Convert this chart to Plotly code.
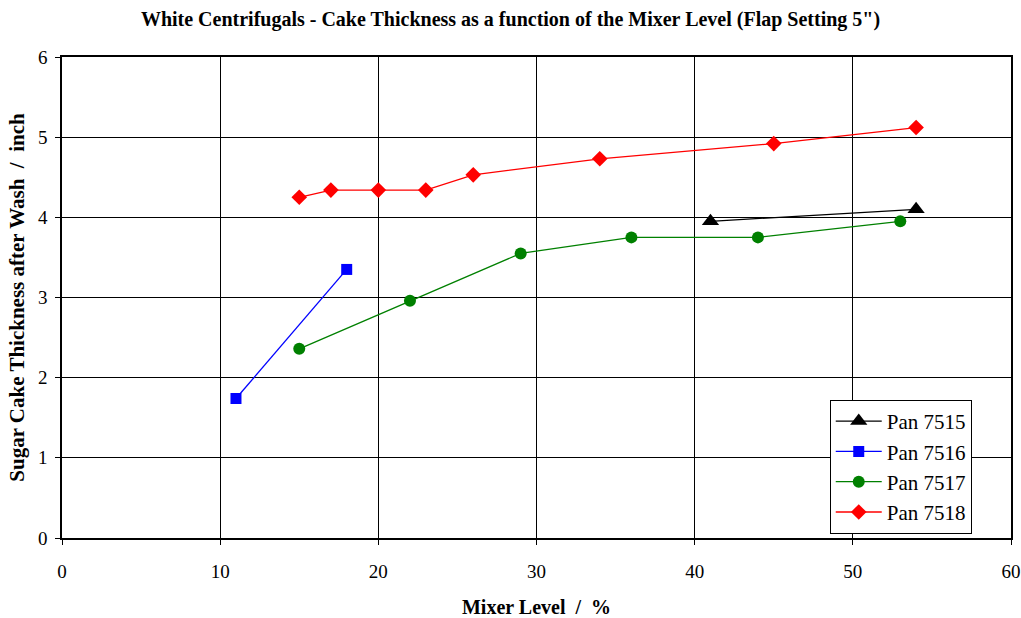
import plotly.graph_objects as go

pan7515_x = [41, 54]
pan7515_y = [3.95, 4.10]
pan7516_x = [11, 18]
pan7516_y = [1.74, 3.35]
pan7517_x = [15, 22, 29, 36, 44, 53]
pan7517_y = [2.36, 2.96, 3.55, 3.75, 3.75, 3.95]
pan7518_x = [15, 17, 20, 23, 26, 34, 45, 54]
pan7518_y = [4.25, 4.34, 4.34, 4.34, 4.53, 4.73, 4.92, 5.12]

FONT = "Liberation Serif"

fig = go.Figure()
series = [
    ("Pan 7515", pan7515_x, pan7515_y, "black", "triangle-up", 15),
    ("Pan 7516", pan7516_x, pan7516_y, "blue", "square", 11),
    ("Pan 7517", pan7517_x, pan7517_y, "green", "circle", 12),
    ("Pan 7518", pan7518_x, pan7518_y, "red", "diamond", 12),
]
for name, xs, ys, c, sym, sz in series:
    fig.add_trace(go.Scatter(x=xs, y=ys, name=name, mode="lines+markers",
                             line=dict(color=c, width=1.3),
                             marker=dict(color=c, symbol=sym, size=sz)))

fig.update_layout(
    width=1021, height=618,
    margin=dict(l=62, r=10, t=57, b=80, autoexpand=False),
    paper_bgcolor="white", plot_bgcolor="white",
    font=dict(family=FONT, size=19, color="black"),
    title=dict(text="<b>White Centrifugals - Cake Thickness as a function of the Mixer Level (Flap Setting 5\")</b>",
               x=0.5, xanchor="center", y=0.97, yanchor="middle",
               font=dict(family=FONT, size=20)),
    showlegend=True,
    legend=dict(x=0.809, y=0.287, xanchor="left", yanchor="top",
                bordercolor="black", borderwidth=1, bgcolor="white",
                font=dict(family=FONT, size=21), tracegroupgap=4, itemwidth=46),
)
fig.update_xaxes(range=[0, 60], dtick=10, showgrid=True, gridcolor="black", gridwidth=1,
                 showline=True, linecolor="black", linewidth=1.5, mirror=True,
                 ticks="outside", ticklen=5, tickcolor="black", zeroline=False,
                 ticklabelstandoff=10, automargin=False,
                 title=dict(text="<b>Mixer Level  /  %</b>", font=dict(family=FONT, size=20), standoff=20))
fig.update_yaxes(range=[0, 6], dtick=1, showgrid=True, gridcolor="black", gridwidth=1,
                 showline=True, linecolor="black", linewidth=1.5, mirror=True,
                 ticks="outside", ticklen=5, tickcolor="black", zeroline=False,
                 ticklabelstandoff=4, automargin=False,
                 title=dict(text="<b>Sugar Cake Thickness after Wash  /  inch</b>", font=dict(family=FONT, size=21), standoff=8))

fig.write_html("out.html")
